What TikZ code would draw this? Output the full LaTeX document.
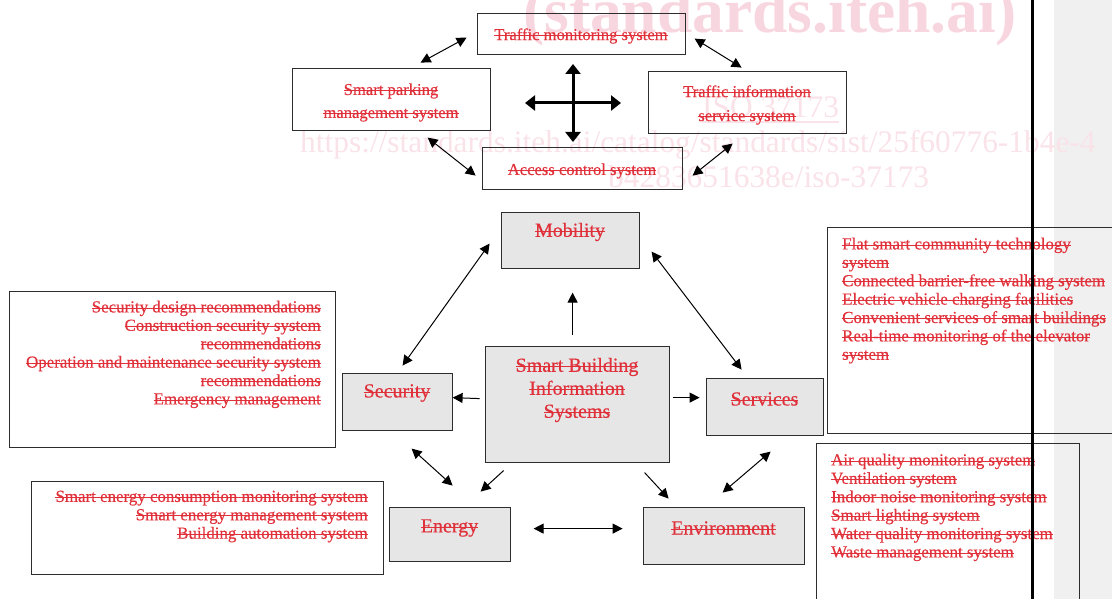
\documentclass[tikz,border=0pt]{standalone}
\usepackage{fontspec}
\setmainfont{Liberation Serif}[FakeBold=0.35]
\newfontfamily\wmfont{Liberation Serif}
\usetikzlibrary{arrows.meta}
\newsavebox\stkbox
\newcommand{\stk}[1]{\sbox\stkbox{#1}\rlap{\rule[0.5ex]{\wd\stkbox}{1pt}}\usebox\stkbox}
\definecolor{redtxt}{RGB}{224,48,58}
\definecolor{boxline}{RGB}{45,45,45}
\definecolor{boxfill}{RGB}{230,230,230}
\definecolor{wmpink}{RGB}{248,214,224}
\definecolor{wmlight}{RGB}{250,226,233}
\definecolor{sidegray}{RGB}{240,240,240}
\begin{document}
\begin{tikzpicture}[x=1pt,y=-1pt,
  box/.style={draw=boxline,line width=1.2pt,inner sep=0pt,anchor=north west},
  gbox/.style={box,fill=boxfill},
  lbl/.style={text=redtxt,inner sep=0pt,align=center,font=\fontsize{16.6}{23}\selectfont},
  big/.style={text=redtxt,inner sep=0pt,align=center,font=\fontsize{20}{23}\selectfont},
  lst/.style={text=redtxt,inner sep=0pt,font=\fontsize{16.9}{18.4}\selectfont},
  wm/.style={text=wmlight,inner sep=0pt,anchor=base west},
  dbl/.style={line width=1pt,{Triangle[length=10pt,width=10pt]}-{Triangle[length=10pt,width=10pt]}},
  sgl/.style={line width=1pt,-{Triangle[length=10pt,width=10pt]}},
  crs/.style={line width=3pt,-{Triangle[length=10pt,width=15pt]}}]
\useasboundingbox (0,0) rectangle (1112,599);
\clip (0,0) rectangle (1112,599);
% right side gray strip
\fill[sidegray] (1054,0) rectangle (1112,599);
% watermark
\node[wm,text=wmpink,font=\wmfont\fontsize{63.5}{70}\selectfont\bfseries] (wm1) at (523,33) {(standards.iteh.ai)};
\node[wm,font=\wmfont\fontsize{31.4}{36}\selectfont] (wm2) at (702,118) {ISO 37173};
\draw[wmlight,line width=1.5pt] ([yshift=-4pt]wm2.base west) -- ([yshift=-4pt]wm2.base east);
\node[wm,font=\wmfont\fontsize{31.4}{36}\selectfont] (wm3) at (300,153) {https://standards.iteh.ai/catalog/standards/sist/25f60776-1b4e-4};
\node[wm,font=\wmfont\fontsize{31.4}{36}\selectfont] (wm4) at (608,188) {b4283651638e/iso-37173};

% top cluster boxes
\node[box,minimum width=208pt,minimum height=41pt] (tms) at (477,13) {};
\node[box,minimum width=198pt,minimum height=62pt] (spm) at (292,68) {};
\node[box,minimum width=198pt,minimum height=62pt] (tis) at (648,71) {};
\node[box,minimum width=200pt,minimum height=42pt] (acs) at (482,147) {};
\node[lbl] (tmsT) at (581,36) {\stk{Traffic monitoring system}};
\node[lbl] (spmT) at (391,102.5) {\stk{Smart parking}\\\stk{management system}};
\node[lbl,font=\fontsize{16.6}{24}\selectfont] (tisT) at (747,105) {\stk{Traffic information}\\\stk{service system}};
\node[lbl] (acsT) at (582,171) {\stk{Access control system}};

% main boxes
\node[gbox,minimum width=138pt,minimum height=56pt] (mob) at (501,212) {};
\node[gbox,minimum width=184pt,minimum height=116pt] (sbis) at (485,346) {};
\node[gbox,minimum width=110pt,minimum height=57pt] (sec) at (342,373) {};
\node[gbox,minimum width=117pt,minimum height=57pt] (srv) at (706,378) {};
\node[gbox,minimum width=121pt,minimum height=54pt] (eng) at (389,507) {};
\node[gbox,minimum width=161pt,minimum height=57pt] (env) at (643,507) {};
\node[big] (mobT) at (570,232) {\stk{Mobility}};
\node[big] (sbisT) at (577,390) {\stk{Smart Building}\\\stk{Information}\\\stk{Systems}};
\node[big] (secT) at (397,393) {\stk{Security}};
\node[big] (srvT) at (764.5,399) {\stk{Services}};
\node[big] (engT) at (449.5,528) {\stk{Energy}};
\node[big] (envT) at (723.5,528) {\stk{Environment}};

% list boxes
\node[box,minimum width=326pt,minimum height=156pt] (secL) at (9,291) {};
\node[box,minimum width=300pt,minimum height=206pt] (srvL) at (827,227) {};
\node[box,minimum width=263pt,minimum height=180pt] (envL) at (816,443) {};
\node[box,minimum width=352pt,minimum height=93pt] (engL) at (31,481) {};
\node[lst,anchor=north east,align=right] (secLT) at (321,300.5) {\stk{Security design recommendations}\\\stk{Construction security system}\\\stk{recommendations}\\\stk{Operation and maintenance security system}\\\stk{recommendations}\\\stk{Emergency management}};
\node[lst,anchor=north west,align=left] (srvLT) at (842,237.5) {\stk{Flat smart community technology}\\\stk{system}\\\stk{Connected barrier-free walking system}\\\stk{Electric vehicle charging facilities}\\\stk{Convenient services of smart buildings}\\\stk{Real-time monitoring of the elevator}\\\stk{system}};
\node[lst,anchor=north west,align=left] (envLT) at (831,453.5) {\stk{Air quality monitoring system}\\\stk{Ventilation system}\\\stk{Indoor noise monitoring system}\\\stk{Smart lighting system}\\\stk{Water quality monitoring system}\\\stk{Waste management system}};
\node[lst,anchor=north east,align=right] (engLT) at (368,490.5) {\stk{Smart energy consumption monitoring system}\\\stk{Smart energy management system}\\\stk{Building automation system}};

% top cluster arrows
\draw[dbl] ([shift={(29,-37)}]spm.center) -- ([shift={(-115,3.5)}]tms.center);
\draw[dbl] ([shift={(113,4.5)}]tms.center) -- ([shift={(-6,-35)}]tis.center);
\draw[dbl] ([shift={(36,38)}]spm.center) -- ([shift={(-107,7)}]acs.center);
\draw[dbl] ([shift={(110,7)}]acs.center) -- ([shift={(-15,41)}]tis.center);
\coordinate (x0) at (573,103);
\draw[crs] (x0) -- ([shift={(0,-39)}]x0);
\draw[crs] (x0) -- ([shift={(0,39)}]x0);
\draw[crs] (x0) -- ([shift={(-48,0)}]x0);
\draw[crs] (x0) -- ([shift={(48,0)}]x0);

% main arrows
\draw[dbl] ([shift={(5,-36.5)}]sec.center) -- ([shift={(-81,3)}]mob.center);
\draw[dbl] ([shift={(81,11)}]mob.center) -- ([shift={(-23.5,-37.5)}]srv.center);
\draw[sgl] ([shift={(-5,-70)}]sbis.center) -- ([shift={(2,52)}]mob.center);
\draw[sgl] ([shift={(-98,-6)}]sbis.center) -- ([shift={(55,-4.5)}]sec.center);
\draw[sgl] ([shift={(95,-7)}]sbis.center) -- ([shift={(-65.5,-9.5)}]srv.center);
\draw[dbl] ([shift={(14,46.5)}]sec.center) -- ([shift={(2.5,-49)}]eng.center);
\draw[sgl] ([shift={(-74,66)}]sbis.center) -- ([shift={(30.5,-43)}]eng.center);
\draw[sgl] ([shift={(67,68)}]sbis.center) -- ([shift={(-55.5,-37.5)}]env.center);
\draw[dbl] ([shift={(5.5,44.5)}]srv.center) -- ([shift={(-1.5,-43.5)}]env.center);
\draw[dbl] ([shift={(83.5,-6)}]eng.center) -- ([shift={(-101.5,-7.5)}]env.center);

% vertical page rule
\draw[line width=3pt] (1032,0) -- (1032,599);
\end{tikzpicture}
\end{document}
